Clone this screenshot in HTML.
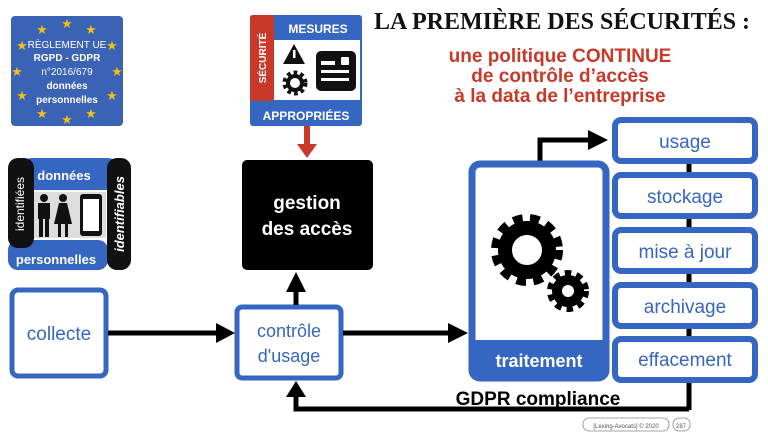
<!DOCTYPE html>
<html><head><meta charset="utf-8"><style>
body{margin:0;width:768px;height:432px;overflow:hidden;background:#fff}
svg{display:block}
.s{font-family:"Liberation Sans","DejaVu Sans",sans-serif}
</style></head><body>
<svg width="768" height="432" viewBox="0 0 768 432" class="s">
<!-- EU flag -->
<rect x="11" y="16" width="112" height="110" rx="4" fill="#3a62b5"/>
<g fill="#f2c012" font-size="13" text-anchor="middle">
<text x="67" y="28">★</text><text x="42" y="34">★</text><text x="91" y="34">★</text>
<text x="22" y="50">★</text><text x="112" y="50">★</text>
<text x="17" y="76">★</text><text x="117" y="76">★</text>
<text x="22" y="100">★</text><text x="112" y="100">★</text>
<text x="42" y="118">★</text><text x="91" y="118">★</text><text x="67" y="124">★</text>
</g>
<g fill="#fff" text-anchor="middle" font-size="10">
<text x="67" y="48">RÈGLEMENT UE</text>
<text x="67" y="61" font-weight="bold">RGPD - GDPR</text>
<text x="67" y="75">n°2016/679</text>
<text x="67" y="89" font-weight="bold">données</text>
<text x="67" y="103" font-weight="bold">personnelles</text>
</g>
<!-- Security box -->
<rect x="250" y="15" width="112" height="111" rx="3" fill="#3566c2"/>
<rect x="274" y="40" width="86" height="60" fill="#fff"/>
<rect x="250" y="15" width="24" height="86" rx="3" fill="#c8392a"/>
<text x="318" y="33" fill="#fff" font-size="12" font-weight="bold" text-anchor="middle">MESURES</text>
<text x="306" y="120" fill="#fff" font-size="12" font-weight="bold" text-anchor="middle">APPROPRIÉES</text>
<text transform="translate(266,58) rotate(-90)" fill="#fff" font-size="10" font-weight="bold" text-anchor="middle">SÉCURITÉ</text>
<path d="M294,44 L305,64 L283,64z" fill="#111"/>
<rect x="293" y="50" width="2.5" height="8" fill="#fff"/>
<circle cx="295" cy="83" r="10" fill="none" stroke="#111" stroke-width="5" stroke-dasharray="3.5 3"/>
<circle cx="295" cy="83" r="7" fill="none" stroke="#111" stroke-width="4"/>
<rect x="316" y="51" width="40" height="40" rx="5" fill="#111"/>
<g fill="#fff"><rect x="321" y="61" width="14" height="4"/><rect x="321" y="70" width="28" height="3"/><rect x="321" y="78" width="28" height="3"/><rect x="341" y="57" width="8" height="8" rx="1"/></g>
<!-- red arrow -->
<rect x="304" y="126" width="6" height="20" fill="#c8392a"/>
<path d="M297,144 L317,144 L307,158z" fill="#c8392a"/>
<!-- title -->
<text x="562" y="29" font-family="Liberation Serif,serif" font-size="24" font-weight="bold" text-anchor="middle" fill="#111">LA PREMIÈRE DES SÉCURITÉS :</text>
<g fill="#c8392a" font-size="19" font-weight="bold" text-anchor="middle">
<text x="560" y="62">une politique CONTINUE</text>
<text x="560" y="82">de contrôle d’accès</text>
<text x="560" y="102">à la data de l’entreprise</text>
</g>
<!-- données personnelles badge -->
<rect x="30" y="160" width="82" height="100" fill="#fff"/>
<rect x="22" y="158" width="96" height="32" rx="10" fill="#3566c2"/>
<rect x="8" y="240" width="100" height="30" rx="10" fill="#3566c2"/>
<rect x="8" y="158" width="26" height="90" rx="10" fill="#111"/>
<rect x="107" y="158" width="24" height="112" rx="10" fill="#111"/>
<text x="64" y="180" fill="#fff" font-size="13" font-weight="bold" text-anchor="middle">données</text>
<text x="56" y="264" fill="#fff" font-size="13" font-weight="bold" text-anchor="middle">personnelles</text>
<text transform="translate(24,204) rotate(-90)" fill="#fff" font-size="12" text-anchor="middle">identifiées</text>
<text transform="translate(124,214) rotate(-90)" fill="#fff" font-size="13" font-weight="bold" font-style="italic" text-anchor="middle">identifiables</text>
<rect x="34" y="192" width="72" height="46" fill="#ddd"/>
<g fill="#111"><circle cx="44" cy="198" r="4"/><rect x="38" y="203" width="12" height="16"/><rect x="39" y="219" width="4" height="18"/><rect x="45" y="219" width="4" height="18"/>
<circle cx="63" cy="198" r="4"/><path d="M59,203 L67,203 L72,224 L54,224z"/><rect x="58" y="224" width="3" height="13"/><rect x="65" y="224" width="3" height="13"/>
<rect x="80" y="194" width="22" height="42" rx="3"/></g>
<rect x="83" y="199" width="16" height="32" fill="#fff"/>
<!-- gestion -->
<rect x="242" y="160" width="131" height="110" rx="5" fill="#000"/>
<text x="307" y="209" fill="#fff" font-size="19" font-weight="bold" text-anchor="middle">gestion</text>
<text x="307" y="235" fill="#fff" font-size="19" font-weight="bold" text-anchor="middle">des accès</text>
<!-- collecte -->
<rect x="12" y="290" width="94" height="86" rx="6" fill="#fff" stroke="#3566c2" stroke-width="5"/>
<text x="59" y="340" fill="#3566c2" font-size="19" text-anchor="middle">collecte</text>
<!-- controle -->
<rect x="237" y="307" width="104" height="71" rx="5" fill="#fff" stroke="#3566c2" stroke-width="5"/>
<text x="289" y="337" fill="#3566c2" font-size="18" text-anchor="middle">contrôle</text>
<text x="289" y="362" fill="#3566c2" font-size="18" text-anchor="middle">d'usage</text>
<!-- arrows -->
<line x1="108" y1="333" x2="218" y2="333" stroke="#000" stroke-width="5"/><path d="M216,323 L235,333 L216,343z"/>
<line x1="343" y1="333" x2="450" y2="333" stroke="#000" stroke-width="5"/><path d="M448,323 L468,333 L448,343z"/>
<line x1="296" y1="305" x2="296" y2="290" stroke="#000" stroke-width="5"/><path d="M286,292 L296,272 L306,292z"/>
<!-- right column line -->
<line x1="689" y1="160" x2="689" y2="410" stroke="#000" stroke-width="5"/>
<polyline points="689,409 296,409 296,395" fill="none" stroke="#000" stroke-width="5"/>
<path d="M286,397 L296,381 L306,397z"/>
<polyline points="540,162 540,140 590,140" fill="none" stroke="#000" stroke-width="5"/>
<path d="M588,130 L608,140 L588,150z"/>
<!-- traitement -->
<rect x="472" y="164" width="134" height="214" rx="8" fill="#fff" stroke="#3566c2" stroke-width="7"/>
<rect x="470" y="340" width="138" height="40" rx="7" fill="#3566c2"/>
<text x="539" y="367" fill="#fff" font-size="18" font-weight="bold" text-anchor="middle">traitement</text>
<circle cx="527" cy="250" r="30" fill="none" stroke="#000" stroke-width="12" stroke-dasharray="9 7"/>
<circle cx="527" cy="250" r="22" fill="none" stroke="#000" stroke-width="14"/>
<circle cx="568" cy="291" r="17" fill="none" stroke="#000" stroke-width="8" stroke-dasharray="6 5"/>
<circle cx="568" cy="291" r="11" fill="none" stroke="#000" stroke-width="10"/>
<!-- right boxes -->
<g fill="#fff" stroke="#3566c2" stroke-width="6">
<rect x="615" y="120" width="140" height="41" rx="6"/>
<rect x="615" y="175" width="140" height="41" rx="6"/>
<rect x="615" y="230" width="140" height="41" rx="6"/>
<rect x="615" y="285" width="140" height="41" rx="6"/>
<rect x="615" y="339" width="140" height="41" rx="6"/>
</g>
<g fill="#3566c2" font-size="19" text-anchor="middle">
<text x="685" y="148">usage</text>
<text x="685" y="203">stockage</text>
<text x="685" y="258">mise à jour</text>
<text x="685" y="313">archivage</text>
<text x="685" y="366">effacement</text>
</g>
<text x="538" y="405" font-size="19" font-weight="bold" text-anchor="middle" fill="#000">GDPR compliance</text>
<!-- footer -->
<rect x="583" y="418" width="86" height="13" rx="6" fill="#fff" stroke="#888" stroke-width="0.8"/>
<text x="626" y="428" font-size="6" fill="#555" text-anchor="middle">[Lexing-Avocats] © 2020</text>
<rect x="673" y="418" width="17" height="13" rx="6" fill="#fff" stroke="#888" stroke-width="0.8"/>
<text x="681" y="428" font-size="6" fill="#555" text-anchor="middle">287</text>
</svg>
</body></html>
